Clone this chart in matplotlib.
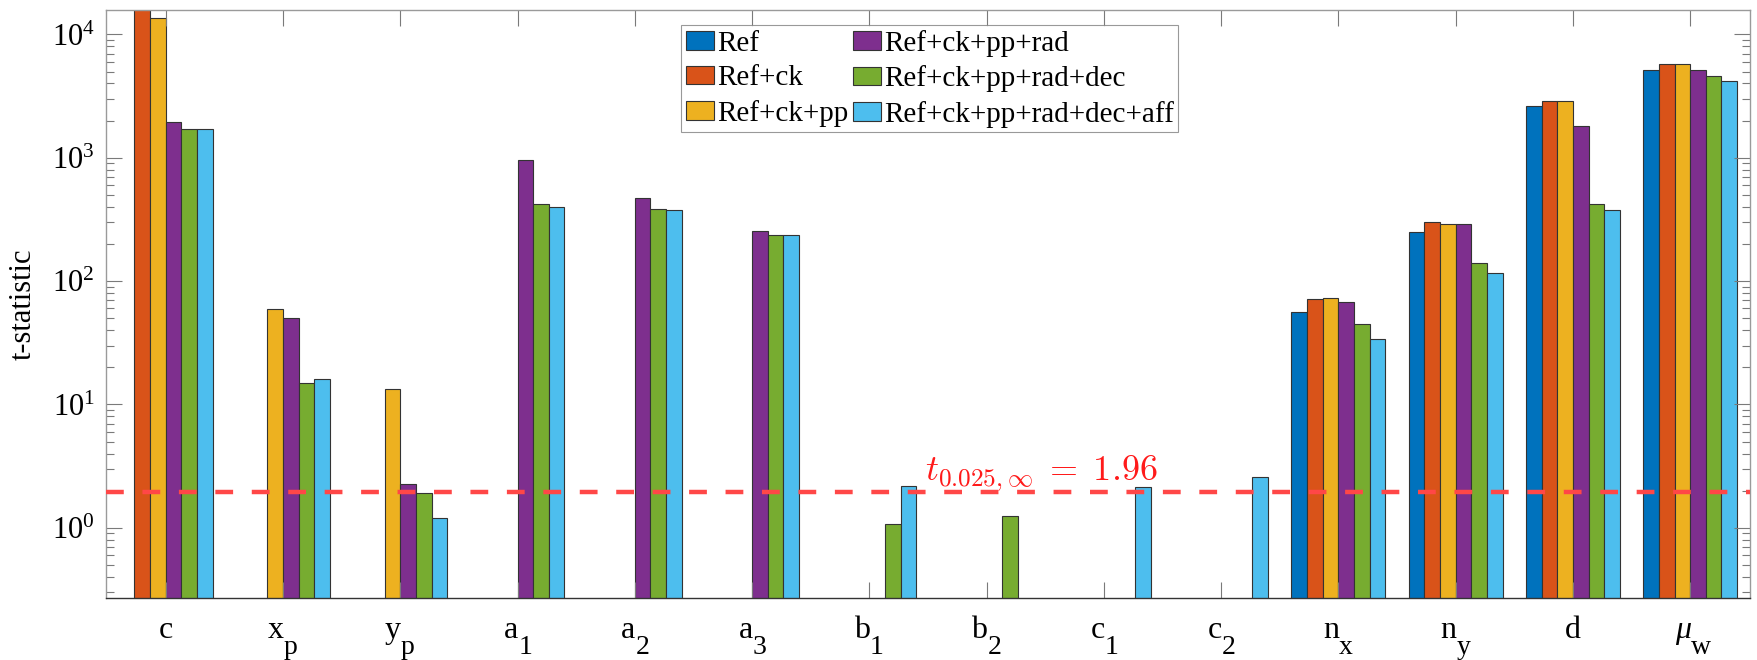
import numpy as np
import matplotlib
matplotlib.use("Agg")
import matplotlib.pyplot as plt
from matplotlib.ticker import LogLocator, NullFormatter

plt.rcParams['font.family'] = ['Liberation Serif', 'DejaVu Serif']
plt.rcParams['mathtext.fontset'] = 'custom'
plt.rcParams['mathtext.rm'] = 'Liberation Serif'
plt.rcParams['mathtext.it'] = 'Liberation Serif:italic'

# parameter names: (main symbol, subscript)
param_main = ['c', 'x', 'y', 'a', 'a', 'a', 'b', 'b', 'c', 'c', 'n', 'n', 'd', 'μ']
param_sub = ['', 'p', 'p', '1', '2', '3', '1', '2', '1', '2', 'x', 'y', '', 'w']

models = ['Ref', 'Ref+ck', 'Ref+ck+pp', 'Ref+ck+pp+rad',
          'Ref+ck+pp+rad+dec', 'Ref+ck+pp+rad+dec+aff']

nan = np.nan
# t-statistics per parameter (nan = parameter not in the model)
t_ref = [nan, nan, nan, nan, nan, nan, nan, nan, nan, nan, 56.0, 251, 2610, 5120]
t_ck = [17500, nan, nan, nan, nan, nan, nan, nan, nan, nan, 72.2, 299, 2910, 5790]
t_ckpp = [13500, 59.3, 13.3, nan, nan, nan, nan, nan, nan, nan, 73.1, 292, 2910, 5790]
t_rad = [1960, 50.5, 2.27, 966, 470, 254, nan, nan, nan, nan, 68.0, 292, 1800, 5120]
t_dec = [1700, 14.9, 1.92, 425, 383, 238, 1.08, 1.24, nan, nan, 45.0, 140, 423, 4620]
t_aff = [1695, 16.2, 1.20, 402, 376, 236, 2.20, nan, 2.13, 2.59, 33.7, 117, 377, 4210]

t_crit = 1.96

colors = ['#0072BD', '#D95319', '#EDB120', '#7E2F8E', '#77AC30', '#4DBEEE']
series = [t_ref, t_ck, t_ckpp, t_rad, t_dec, t_aff]

fig = plt.figure(figsize=(17.57, 6.6), dpi=100)
ax = fig.add_axes([0.0603, 0.094, 0.9357, 0.891])

x = np.arange(1, len(param_main) + 1)
w = 0.8 / 6
for i, (vals, col, lab) in enumerate(zip(series, colors, models)):
    vals = np.array(vals, dtype=float)
    ok = np.isfinite(vals)
    ax.bar(x[ok] + (i - 2.5) * w, vals[ok], width=w, color=col,
           edgecolor='#333333', linewidth=0.8, label=lab)

ax.set_yscale('log')
ax.set_ylim(0.27, 1.58e4)
ax.set_xlim(0.49, 14.51)

ax.axhline(t_crit, color='#FF4747', lw=3.2, ls=(0, (4.0, 4.2)), zorder=5)
ax.text(8.47, 2.46, r'$t_{0.025,\infty}\;=\;1.96$', color='#FF1A1A', fontsize=26,
        ha='center', va='baseline', math_fontfamily='cm', zorder=6)

# x tick labels drawn as symbol + lowered subscript
ax.set_xticks(x)
ax.set_xticklabels([])
for xi, m, s in zip(x, param_main, param_sub):
    style = 'italic' if m == 'μ' else 'normal'
    if s:
        ax.annotate(m, xy=(xi, 0), xycoords=('data', 'axes fraction'),
                    xytext=(0.5, -28.8), textcoords='offset points',
                    ha='right', va='baseline', fontsize=23, style=style)
        ax.annotate(s, xy=(xi, 0), xycoords=('data', 'axes fraction'),
                    xytext=(0.5, -40.5), textcoords='offset points',
                    ha='left', va='baseline', fontsize=20)
    else:
        ax.annotate(m, xy=(xi, 0), xycoords=('data', 'axes fraction'),
                    xytext=(0, -28.8), textcoords='offset points',
                    ha='center', va='baseline', fontsize=23)

ax.yaxis.set_major_locator(LogLocator(base=10, numticks=10))
ax.yaxis.set_minor_locator(LogLocator(base=10, subs=np.arange(2, 10), numticks=10))
ax.yaxis.set_minor_formatter(NullFormatter())
ax.tick_params(axis='both', which='major', direction='in', length=11.5, width=0.8,
               color='#7a7a7a', top=True, right=True, labelsize=22)
ax.tick_params(axis='y', which='minor', direction='in', length=5.8, width=0.8,
               color='#7a7a7a', right=True)
ax.tick_params(axis='y', which='major', pad=8)
ax.set_ylabel('t-statistic', fontsize=22)
ax.yaxis.set_label_coords(-0.0414, 0.5)

for side in ['top', 'right', 'left']:
    ax.spines[side].set_color('#9a9a9a')
ax.spines['bottom'].set_color('#333333')
for sp in ax.spines.values():
    sp.set_linewidth(1.0)

leg = ax.legend(ncol=2, loc='upper left', bbox_to_anchor=(0.350, 0.974),
                fontsize=21, frameon=True, fancybox=False, borderpad=0.15,
                handlelength=0.97, handleheight=0.6, handletextpad=0.1,
                columnspacing=0.15, labelspacing=0.3, borderaxespad=0)
leg.get_frame().set_edgecolor('#808080')
leg.get_frame().set_linewidth(0.8)

fig.savefig('out.png', dpi=100)
